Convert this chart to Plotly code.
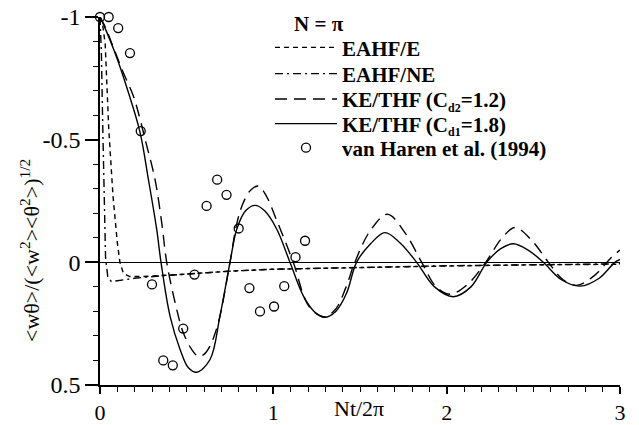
import plotly.graph_objects as go

# ---- data ----
ke18_x = [0, 0.02, 0.087, 0.163, 0.231, 0.279, 0.327, 0.352, 0.404, 0.462, 0.51, 0.558, 0.635, 0.692, 0.75,
          0.789, 0.84, 0.895, 0.95, 1.02, 1.096, 1.173, 1.235, 1.295, 1.36, 1.423, 1.48, 1.56, 1.644, 1.73,
          1.827, 1.93, 2.038, 2.14, 2.231, 2.31, 2.385, 2.47, 2.558, 2.66, 2.77, 2.88, 2.97, 3.0]
ke18_y = [-1, -0.97, -0.853, -0.694, -0.53, -0.339, -0.135, 0, 0.219, 0.355, 0.43, 0.448, 0.396, 0.219, 0,
          -0.135, -0.21, -0.232, -0.21, -0.135, 0, 0.137, 0.2, 0.224, 0.2, 0.125, 0, -0.075, -0.121, -0.08,
          0, 0.1, 0.14, 0.1, 0, -0.055, -0.076, -0.05, 0, 0.07, 0.097, 0.065, 0.0, -0.012]

ke12_x = [0, 0.03, 0.077, 0.134, 0.192, 0.231, 0.26, 0.317, 0.356, 0.385, 0.442, 0.48, 0.529, 0.566, 0.6,
          0.635, 0.683, 0.75, 0.79, 0.827, 0.87, 0.915, 0.96, 1.02, 1.115, 1.193, 1.25, 1.298, 1.36, 1.42,
          1.47, 1.56, 1.658, 1.76, 1.856, 1.94, 2.02, 2.12, 2.225, 2.32, 2.395, 2.49, 2.587, 2.67, 2.75,
          2.85, 2.95, 3.0]
ke12_y = [-1, -0.96, -0.876, -0.774, -0.679, -0.584, -0.502, -0.339, -0.162, 0, 0.19, 0.286, 0.355, 0.383,
          0.375, 0.34, 0.245, 0, -0.16, -0.244, -0.295, -0.311, -0.27, -0.17, 0, 0.165, 0.21, 0.222, 0.19,
          0.1, 0, -0.13, -0.196, -0.12, 0, 0.1, 0.13, 0.09, 0, -0.1, -0.142, -0.09, 0, 0.07, 0.094, 0.055,
          -0.02, -0.05]

eahf_e_x = [0, 0.015, 0.03, 0.05, 0.075, 0.1, 0.115, 0.135, 0.17, 0.25, 0.5, 0.75, 1.0, 1.5, 2.0, 2.5, 3.0]
eahf_e_y = [-1, -0.97, -0.89, -0.55, -0.27, -0.08, 0, 0.045, 0.058, 0.058, 0.048, 0.036, 0.028, 0.02,
            0.015, 0.01, 0.008]

eahf_ne_x = [0, 0.008, 0.016, 0.024, 0.032, 0.045, 0.065, 0.1, 0.2, 0.35, 0.5, 0.75, 1.0, 1.5, 2.0, 2.5, 3.0]
eahf_ne_y = [-1, -0.85, -0.55, -0.25, -0.02, 0.06, 0.078, 0.075, 0.065, 0.055, 0.048, 0.036, 0.028, 0.02,
             0.014, 0.01, 0.006]

obs_x = [0, 0.05, 0.105, 0.173, 0.235, 0.3, 0.365, 0.42, 0.48, 0.545, 0.615, 0.676, 0.73, 0.80, 0.862,
         0.923, 1.004, 1.063, 1.128, 1.183]
obs_y = [-1, -1, -0.955, -0.853, -0.535, 0.09, 0.40, 0.42, 0.27, 0.05, -0.23, -0.337, -0.275, -0.138,
         0.105, 0.2, 0.18, 0.097, -0.021, -0.088]

x_tickvals = [0, 1, 2, 3]
x_ticktext = ["0", "1", "2", "3"]
y_tickvals = [-1, -0.5, 0, 0.5]
y_ticktext = ["-1", "-0.5", "0", "0.5"]

SUB = '<sub><span style="font-size:12px">{}</span></sub>'
names = ["EAHF/E", "EAHF/NE", "KE/THF (C" + SUB.format("d2") + "=1.2)",
         "KE/THF (C" + SUB.format("d1") + "=1.8)", "van Haren et al. (1994)"]

SERIF = "Liberation Serif"
W, H = 639, 425
L, R, T, B = 100, 620, 17, 385

fig = go.Figure()
line_common = dict(color="black", width=1.4)
fig.add_trace(go.Scatter(x=eahf_e_x, y=eahf_e_y, mode="lines", name=names[0], legend="legend",
                         line=dict(dash="5px,4px", **line_common), cliponaxis=False))
fig.add_trace(go.Scatter(x=eahf_ne_x, y=eahf_ne_y, mode="lines", name=names[1], legend="legend2",
                         line=dict(dash="8px,4px,2px,4px", **line_common), cliponaxis=False))
fig.add_trace(go.Scatter(x=ke12_x, y=ke12_y, mode="lines", name=names[2], legend="legend3",
                         line=dict(dash="12px,7px", shape="spline", **line_common), cliponaxis=False))
fig.add_trace(go.Scatter(x=ke18_x, y=ke18_y, mode="lines", name=names[3], legend="legend4",
                         line=dict(shape="spline", **line_common), cliponaxis=False))
fig.add_trace(go.Scatter(x=obs_x, y=obs_y, mode="markers", name=names[4], legend="legend5",
                         marker=dict(symbol="circle-open", size=9, color="black", line=dict(width=1.3)),
                         cliponaxis=False))

def py2paper(py):
    return (B - py) / (B - T)

def px2paper(px):
    return (px - L) / (R - L)

leg_font = dict(family=SERIF, size=21, color="black", weight="bold")
rows = [47.7, 74, 99.3, 124, 148]
leg_keys = ["legend", "legend2", "legend3", "legend4", "legend5"]
legends = {}
for k, ry in zip(leg_keys, rows):
    legends[k] = dict(x=px2paper(270), xanchor="left", y=py2paper(ry), yanchor="middle",
                      font=leg_font, bgcolor="rgba(0,0,0,0)", itemwidth=62,
                      borderwidth=0, tracegroupgap=0)

fig.update_layout(
    width=W, height=H,
    margin=dict(l=L, r=W - R, t=T, b=H - B, pad=0, autoexpand=False),
    plot_bgcolor="white", paper_bgcolor="white",
    showlegend=True,
    font=dict(family=SERIF, size=22, color="black"),
    **legends,
    xaxis=dict(range=[0, 3], tickvals=x_tickvals, ticktext=x_ticktext, showgrid=False, zeroline=False,
               showline=True, linecolor="black", linewidth=1.5, ticks="outside", ticklen=7,
               tickwidth=1.5, tickcolor="black", automargin=False,
               minor=dict(dtick=0.1, ticks="outside", ticklen=5, tickwidth=1.2, tickcolor="black"),
               tickfont=dict(family=SERIF, size=22, color="black")),
    yaxis=dict(range=[0.5, -1], tickvals=y_tickvals, ticktext=y_ticktext, showgrid=False, zeroline=True,
               zerolinecolor="black", zerolinewidth=1.3, automargin=False,
               showline=True, linecolor="black", linewidth=1.5, ticks="outside", ticklen=13,
               tickwidth=1.5, tickcolor="black",
               minor=dict(dtick=0.1, ticks="outside", ticklen=5, tickwidth=1.2, tickcolor="black"),
               tickfont=dict(family=SERIF, size=24, color="black")),
    annotations=[
        dict(text="<wθ>/(<w<sup>2</sup>><θ<sup>2</sup>>)<sup>1/2</sup>", textangle=-90,
             xref="paper", yref="paper", x=px2paper(30), y=py2paper(251), xanchor="center",
             yanchor="middle", showarrow=False, font=dict(family=SERIF, size=22, color="black")),
        dict(text="Nt/2π", xref="x", yref="paper", x=1.495, y=py2paper(408), xanchor="center",
             yanchor="middle", showarrow=False, font=dict(family=SERIF, size=22, color="black")),
        dict(text="N = π", xref="paper", yref="paper", x=px2paper(318.5), y=py2paper(24),
             xanchor="center", yanchor="middle", showarrow=False,
             font=dict(family=SERIF, size=21, color="black", weight="bold")),
    ],
)

fig.write_html("out.html")
